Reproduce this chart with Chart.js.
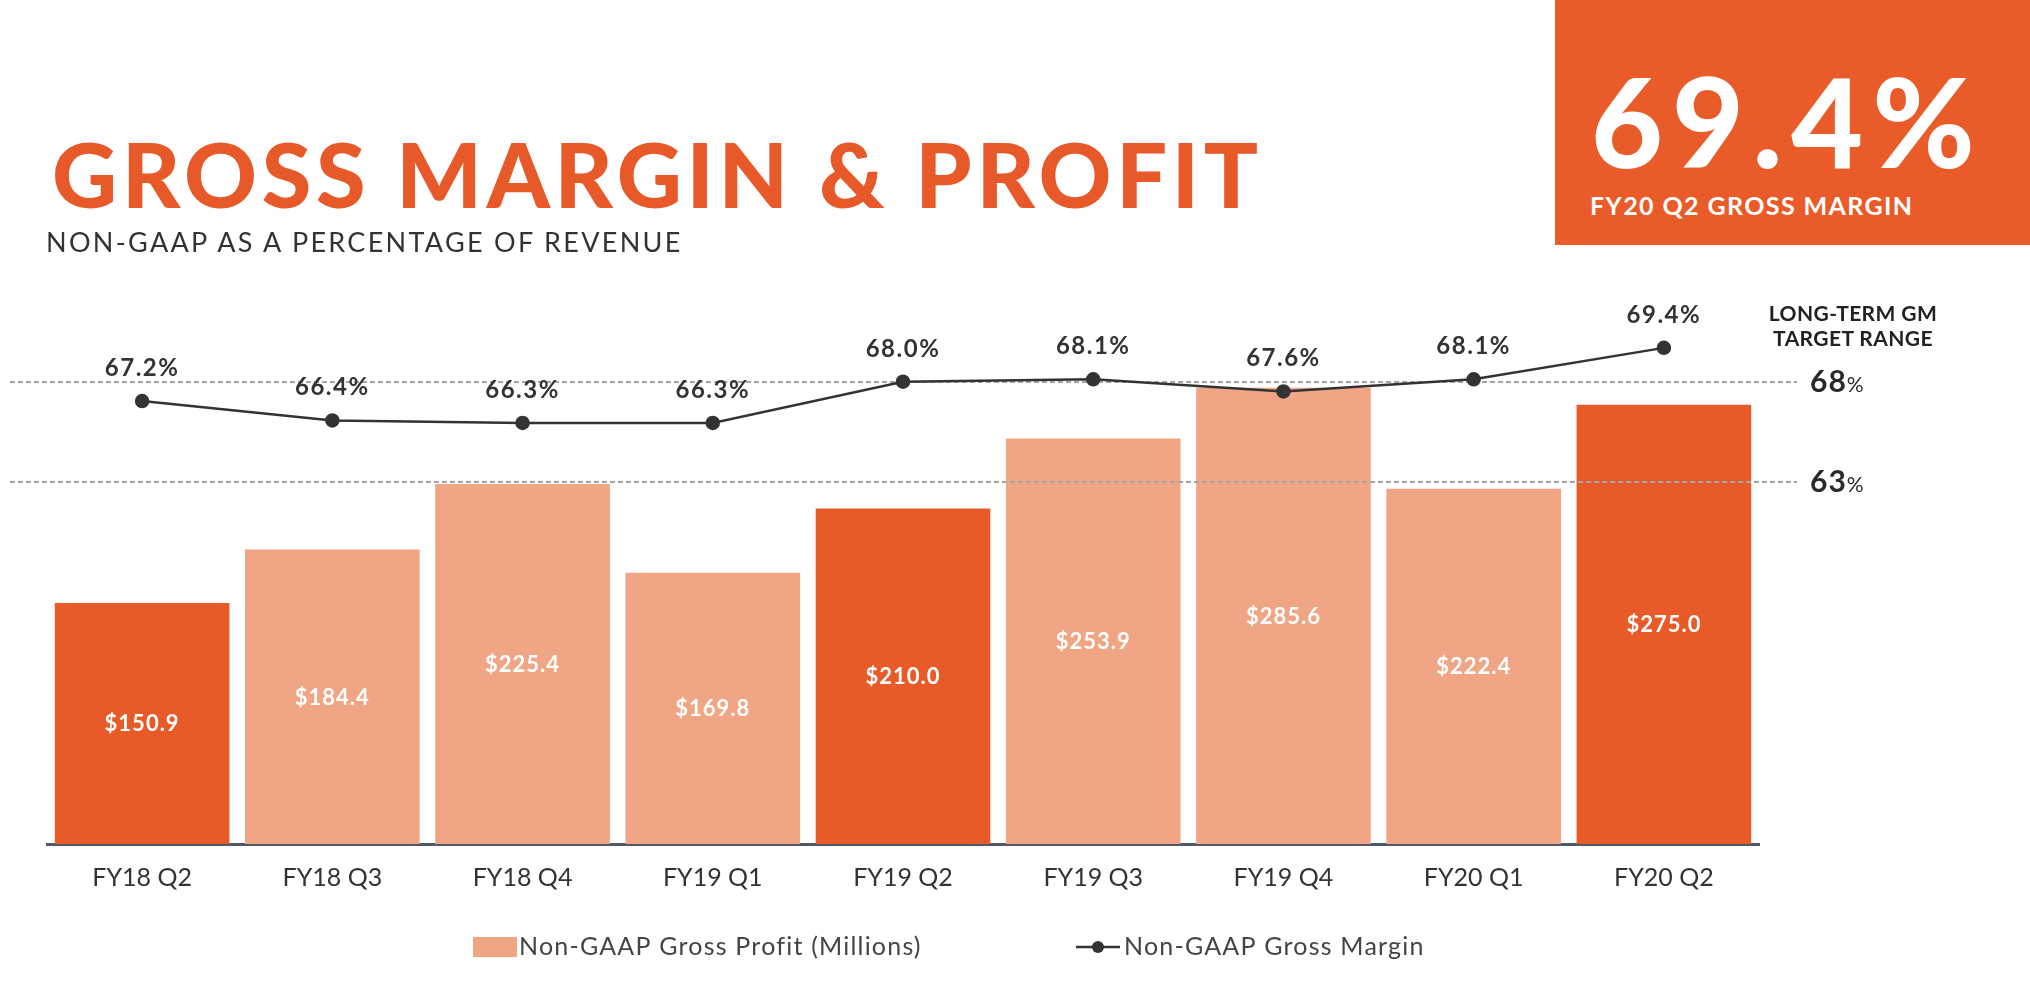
<!DOCTYPE html>
<html>
<head>
<meta charset="utf-8">
<script src="https://cdn.jsdelivr.net/npm/chart.js@4.4.0/dist/chart.umd.min.js"></script>
<style>
    html, body { margin: 0; padding: 0; background: #fff; }
    #wrap { position: relative; width: 2030px; height: 1002px; overflow: hidden; font-family: Lato, Inter, 'Noto Sans', sans-serif; }
    #chart { position: absolute; left: 0; top: 0; }
    .title { position: absolute; left: 52px; top: 128px; font-size: 90px; line-height: 90px; font-weight: 900; color: #e8592a; white-space: nowrap; letter-spacing: 4.7px; }
    .subtitle { position: absolute; left: 46px; top: 228px; font-size: 27px; line-height: 27px; color: #333; white-space: nowrap; letter-spacing: 2.3px; }
    .badge { position: absolute; left: 1555px; top: 0; width: 475px; height: 245px; background: #e95b29; }
    .badge .big { position: absolute; left: 36px; top: 58px; font-size: 124px; line-height: 124px; font-weight: 900; color: #fff; white-space: nowrap; letter-spacing: 9px; }
    .badge .small { position: absolute; left: 35px; top: 193px; font-size: 25px; line-height: 25px; font-weight: 700; color: #fff; white-space: nowrap; letter-spacing: 1.4px; }
    .target { position: absolute; left: 1753px; top: 300px; width: 200px; text-align: center; font-size: 21px; line-height: 25px; font-weight: 700; color: #222; letter-spacing: 0.4px; }
</style>
</head>
<body>
<div id="wrap">
    <canvas id="chart" width="2030" height="1002"></canvas>
    <div class="title">GROSS MARGIN &amp; PROFIT</div>
    <div class="subtitle">NON-GAAP AS A PERCENTAGE OF REVENUE</div>
    <div class="badge">
        <div class="big">69.4%</div>
        <div class="small">FY20 Q2 GROSS MARGIN</div>
    </div>
    <div class="target">LONG-TERM GM<br>TARGET RANGE</div>
</div>
<script>
// ========================================
// 資料
// ========================================
const quarters = ['FY18 Q2', 'FY18 Q3', 'FY18 Q4', 'FY19 Q1', 'FY19 Q2', 'FY19 Q3', 'FY19 Q4', 'FY20 Q1', 'FY20 Q2'];
const grossProfit = [150.9, 184.4, 225.4, 169.8, 210.0, 253.9, 285.6, 222.4, 275.0];
const grossMargin = [67.2, 66.4, 66.3, 66.3, 68.0, 68.1, 67.6, 68.1, 69.4];
const targetRange = [68, 63];

const DARK = '#e85a28';
const LIGHT = '#f0a684';
const INK = '#333333';
const FONT = 'Lato, Inter, "Noto Sans", sans-serif';

Chart.defaults.font.family = FONT;

// 目標線、數值標籤、圖例
const overlayPlugin = {
    id: 'overlay',
    beforeDatasetDraw(chart, args) {
        if (args.meta.type !== 'line') return;
        const ctx = chart.ctx;
        const yT = chart.scales.yTarget;
        ctx.save();
        ctx.strokeStyle = '#a5a5a5';
        ctx.lineWidth = 2;
        ctx.setLineDash([5, 3]);
        targetRange.forEach(t => {
            const py = yT.getPixelForValue(t);
            ctx.beginPath();
            ctx.moveTo(10, py);
            ctx.lineTo(chart.chartArea.right + 38, py);
            ctx.stroke();
        });
        ctx.restore();
    },
    afterDatasetsDraw(chart) {
        const ctx = chart.ctx;
        ctx.save();
        ctx.textAlign = 'center';
        ctx.textBaseline = 'alphabetic';

        // 長條標籤
        const barMeta = chart.getDatasetMeta(1);
        ctx.fillStyle = '#ffffff';
        ctx.font = 'bold 22px ' + FONT;
        ctx.letterSpacing = '1px';
        barMeta.data.forEach((bar, i) => {
            const mid = (bar.y + bar.base) / 2;
            ctx.fillText('$' + grossProfit[i].toFixed(1), bar.x, mid + 8);
        });

        // 折線標籤
        const lineMeta = chart.getDatasetMeta(0);
        ctx.fillStyle = INK;
        ctx.font = 'bold 24px ' + FONT;
        ctx.letterSpacing = '1.5px';
        lineMeta.data.forEach((pt, i) => {
            ctx.fillText(grossMargin[i].toFixed(1) + '%', pt.x, pt.y - 25);
        });

        // 目標範圍標籤
        const yT = chart.scales.yTarget;
        ctx.textAlign = 'left';
        ctx.fillStyle = '#2a2a2a';
        targetRange.forEach(t => {
            const py = yT.getPixelForValue(t);
            const x0 = chart.chartArea.right + 51;
            ctx.font = 'bold 30px ' + FONT;
            ctx.letterSpacing = '1px';
            const s = String(t);
            ctx.fillText(s, x0, py + 10);
            const w = ctx.measureText(s).width;
            ctx.letterSpacing = '0px';
            ctx.font = '21px ' + FONT;
            ctx.fillText('%', x0 + w, py + 10);
        });
        ctx.restore();
    },
    afterDraw(chart) {
        const ctx = chart.ctx;
        const ly = 947;
        ctx.save();
        ctx.fillStyle = LIGHT;
        ctx.fillRect(473, ly - 10, 44, 20);
        ctx.fillStyle = '#444';
        ctx.font = '25px ' + FONT;
        ctx.letterSpacing = '1.2px';
        ctx.textBaseline = 'middle';
        ctx.textAlign = 'left';
        ctx.fillText('Non-GAAP Gross Profit (Millions)', 519, ly);

        ctx.strokeStyle = INK;
        ctx.lineWidth = 2.5;
        ctx.beginPath();
        ctx.moveTo(1076, ly);
        ctx.lineTo(1120, ly);
        ctx.stroke();
        ctx.fillStyle = INK;
        ctx.beginPath();
        ctx.arc(1098, ly, 6, 0, Math.PI * 2);
        ctx.fill();
        ctx.fillStyle = '#444';
        ctx.fillText('Non-GAAP Gross Margin', 1124, ly);
        ctx.restore();
    }
};

const ctx = document.getElementById('chart').getContext('2d');
new Chart(ctx, {
    type: 'bar',
    data: {
        labels: quarters,
        datasets: [
            {
                type: 'line',
                label: 'Non-GAAP Gross Margin',
                data: grossMargin,
                yAxisID: 'yMargin',
                borderColor: INK,
                borderWidth: 2.5,
                pointRadius: 6,
                pointBackgroundColor: INK,
                pointBorderColor: INK,
                tension: 0,
                clip: false,
                order: 0
            },
            {
                type: 'bar',
                label: 'Non-GAAP Gross Profit (Millions)',
                data: grossProfit,
                yAxisID: 'yProfit',
                backgroundColor: c => quarters[c.dataIndex].endsWith('Q2') ? DARK : LIGHT,
                borderWidth: 0,
                categoryPercentage: 1,
                barPercentage: 0.918,
                order: 1
            }
        ]
    },
    options: {
        responsive: false,
        animation: false,
        layout: {
            padding: { left: 47, right: 271, top: 336, bottom: 90 }
        },
        scales: {
            x: {
                grid: { display: false, drawTicks: false },
                border: { display: true, color: '#505a66', width: 3 },
                ticks: {
                    color: INK,
                    padding: 19,
                    font: { size: 25 }
                }
            },
            yProfit: {
                display: false,
                min: 0,
                max: 318
            },
            yMargin: {
                display: false,
                min: 48.9,
                max: 69.89
            },
            yTarget: {
                display: false,
                min: 44.9,
                max: 70.3
            }
        },
        plugins: {
            legend: { display: false },
            tooltip: { enabled: false }
        }
    },
    plugins: [overlayPlugin]
});
</script>
</body>
</html>
